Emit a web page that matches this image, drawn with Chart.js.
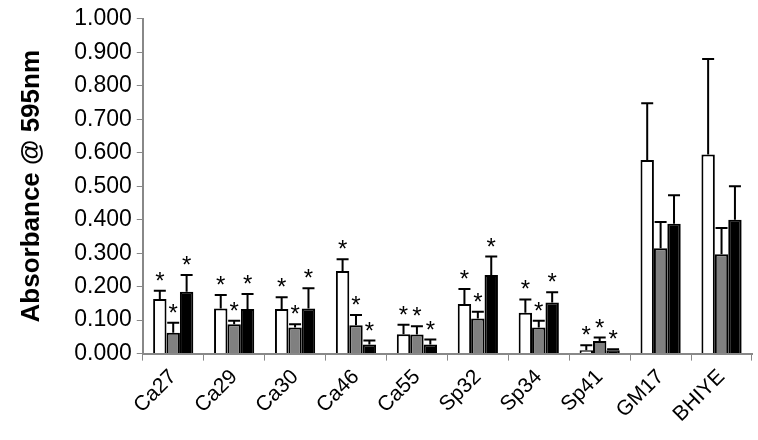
<!DOCTYPE html>
<html><head><script src="https://cdn.jsdelivr.net/npm/chart.js@4"></script>
<style>body{margin:0;background:#fff}#w{width:758px;height:440px}</style></head>
<body><div id="w"><canvas id="c"></canvas></div>
<script>
const categories=["Ca27","Ca29","Ca30","Ca46","Ca55","Sp32","Sp34","Sp41","GM17","BHIYE"];
const s1=[0.163,0.135,0.133,0.247,0.058,0.148,0.122,0.010,0.578,0.595];
const s2=[0.062,0.088,0.078,0.085,0.057,0.105,0.078,0.038,0.315,0.297];
const s3=[0.185,0.133,0.135,0.027,0.027,0.235,0.153,0.010,0.388,0.400];
const e1=[0.025,0.040,0.035,0.035,0.028,0.045,0.040,0.015,0.170,0.285];
const e2=[0.030,0.010,0.010,0.030,0.025,0.020,0.020,0.010,0.078,0.078];
const e3=[0.050,0.045,0.060,0.012,0.015,0.055,0.030,0.003,0.085,0.100];
const star=[1,1,1,1,1,1,1,1,0,0];
const errs=[e1,e2,e3];
const errPlugin={id:'err',afterDatasetsDraw(ch){
 const ctx=ch.ctx,y=ch.scales.y;ctx.save();ctx.strokeStyle='#000';ctx.lineWidth=2;ctx.fillStyle='#000';
 ctx.font='24px Liberation Sans';ctx.textAlign='center';
 ch.data.datasets.forEach((ds,di)=>{ch.getDatasetMeta(di).data.forEach((b,i)=>{
  const top=y.getPixelForValue(ds.data[i]+errs[di][i]);
  ctx.beginPath();ctx.moveTo(b.x,b.y);ctx.lineTo(b.x,top);ctx.moveTo(b.x-6,top);ctx.lineTo(b.x+6,top);ctx.stroke();
  if(star[i])ctx.fillText('*',b.x,top-2);
 });});ctx.restore();}};
new Chart(document.getElementById('c'),{type:'bar',
 data:{labels:categories,datasets:[
  {data:s1,backgroundColor:'#fff',borderColor:'#000',borderWidth:2},
  {data:s2,backgroundColor:'#808080',borderColor:'#000',borderWidth:2},
  {data:s3,backgroundColor:'#000',borderColor:'#000',borderWidth:2}]},
 options:{responsive:true,maintainAspectRatio:false,animation:false,
  layout:{padding:{top:11,right:6,left:16,bottom:9}},
  datasets:{bar:{barPercentage:1,categoryPercentage:0.66}},
  plugins:{legend:{display:false},tooltip:{enabled:false}},
  scales:{
   x:{grid:{display:true,drawOnChartArea:false,offset:true,color:'#888',tickLength:7},border:{color:'#888',width:2},
      ticks:{maxRotation:45,minRotation:45,padding:4,color:'#000',font:{family:'Liberation Sans',size:21}}},
   y:{min:0,max:1,grid:{display:true,drawOnChartArea:false,color:'#888',tickLength:6},border:{color:'#888',width:2},
      ticks:{stepSize:0.1,padding:5,color:'#000',font:{family:'Liberation Sans',size:23},callback:v=>v.toFixed(3)},
      title:{display:true,text:'Absorbance @ 595nm',padding:{top:0,bottom:22},color:'#000',font:{family:'Liberation Sans',size:26,weight:'bold'}}}}},
 plugins:[errPlugin]});
</script></body></html>
